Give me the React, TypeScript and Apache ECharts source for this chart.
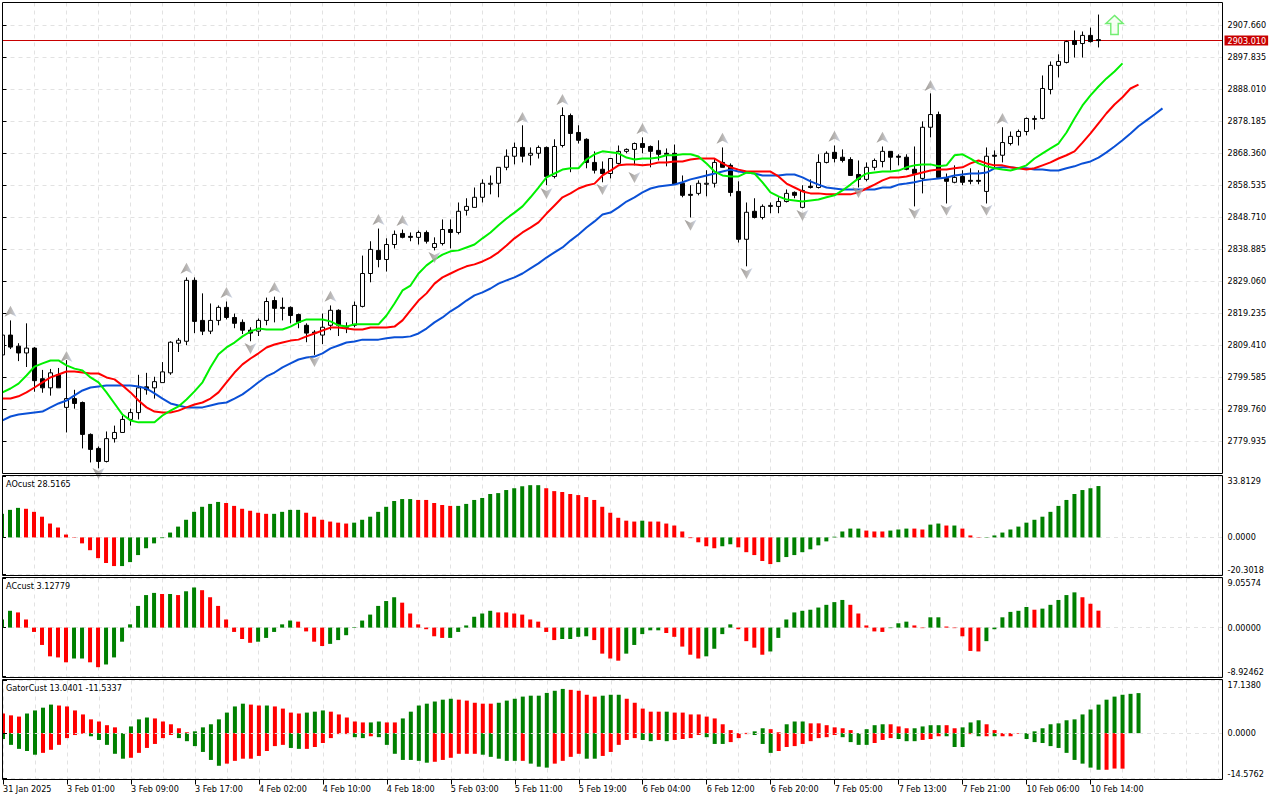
import React, { useEffect, useRef } from "react";
import * as echarts from "echarts";

const opens = [2806.5,2812.6,2809.2,2807.1,2808.6,2799.2,2796.4,2800.4,2790.4,2793.1,
2791.9,2782.1,2777.8,2773.8,2780.8,2782.7,2786.7,2788.8,2796.7,2796.4,
2798.0,2801.0,2810.1,2810.7,2829.4,2817.1,2813.8,2817.1,2821.1,2818.0,
2816.5,2814.1,2813.8,2817.1,2823.2,2821.1,2821.1,2818.9,2815.6,2813.5,
2812.6,2815.6,2820.2,2815.3,2815.6,2821.4,2831.5,2838.6,2835.8,2840.4,
2843.8,2842.9,2842.6,2844.1,2839.5,2840.7,2845.0,2844.1,2850.9,2851.8,
2854.9,2858.9,2859.2,2864.1,2867.5,2870.2,2867.8,2868.4,2870.2,2861.3,
2870.8,2880.0,2874.8,2872.7,2865.6,2863.5,2862.2,2865.3,2869.0,2869.6,
2871.4,2870.5,2869.3,2868.4,2868.4,2859.2,2855.8,2856.1,2858.9,2859.2,
2865.6,2864.7,2856.7,2842.0,2850.6,2848.7,2852.1,2852.1,2853.6,2856.4,
2851.8,2858.3,2857.9,2865.6,2868.7,2867.2,2866.5,2861.9,2860.4,2864.1,
2865.9,2869.0,2867.5,2867.2,2863.5,2860.7,2876.4,2880.3,2860.7,2859.5,
2861.3,2860.1,2860.1,2856.7,2867.8,2867.8,2871.4,2873.6,2875.1,2878.8,
2879.1,2888.0,2895.4,2896.3,2903.0,2902.1,2904.6,2903.3];
const closes = [2812.6,2808.9,2807.1,2808.6,2798.6,2796.4,2801.0,2796.4,2793.1,2791.6,
2782.1,2777.5,2773.8,2780.8,2782.7,2786.7,2788.8,2796.4,2795.8,2798.3,
2801.3,2810.4,2811.0,2829.4,2816.8,2813.8,2817.1,2821.1,2818.0,2816.2,
2814.1,2813.2,2817.1,2822.9,2820.8,2820.8,2818.6,2816.5,2813.2,2813.2,
2815.0,2820.2,2815.6,2815.0,2821.7,2831.5,2838.9,2835.8,2840.4,2843.5,
2842.6,2842.6,2844.1,2841.4,2840.7,2845.0,2844.1,2850.6,2852.1,2854.9,
2859.2,2859.2,2864.1,2867.5,2870.2,2867.5,2868.4,2870.2,2861.3,2870.5,
2880.0,2874.5,2872.4,2865.6,2863.2,2862.2,2866.8,2869.0,2869.6,2871.4,
2870.2,2869.0,2868.1,2868.1,2858.9,2855.5,2855.5,2859.2,2859.2,2865.6,
2864.1,2856.4,2842.0,2850.3,2848.7,2852.1,2852.4,2853.6,2856.1,2855.5,
2857.0,2857.9,2865.6,2868.4,2866.8,2866.2,2861.6,2860.4,2864.1,2866.2,
2869.0,2867.2,2867.2,2863.5,2862.2,2876.4,2880.3,2861.0,2859.8,2861.0,
2859.5,2859.8,2859.8,2867.5,2867.5,2871.7,2873.6,2875.1,2879.1,2879.1,
2888.3,2895.4,2896.6,2902.7,2901.8,2904.6,2902.7,2903.01];
const highs = [2814.1,2817.1,2810.1,2816.2,2808.9,2801.9,2802.2,2802.5,2804.9,2795.8,
2792.2,2782.4,2778.4,2783.0,2784.8,2787.9,2790.0,2800.4,2801.0,2799.8,
2804.3,2810.7,2811.7,2830.3,2830.3,2825.4,2822.3,2821.7,2822.9,2819.2,
2817.4,2815.0,2817.7,2824.1,2824.4,2824.1,2821.4,2819.2,2816.2,2814.1,
2819.2,2821.7,2820.5,2816.5,2822.9,2837.0,2841.4,2845.3,2842.3,2844.7,
2845.0,2844.1,2844.7,2844.7,2842.6,2848.1,2848.1,2853.3,2854.6,2857.9,
2860.4,2861.6,2864.1,2869.6,2871.7,2877.0,2870.2,2870.8,2870.5,2872.7,
2882.5,2880.6,2877.0,2873.0,2869.0,2865.9,2866.8,2870.8,2869.9,2871.7,
2873.3,2870.8,2872.4,2869.9,2871.1,2861.6,2858.6,2860.1,2863.2,2866.8,
2870.2,2865.3,2859.8,2853.3,2854.6,2852.7,2853.3,2854.9,2857.3,2856.7,
2858.6,2860.4,2868.1,2869.0,2870.8,2869.6,2867.2,2866.2,2865.6,2866.8,
2870.5,2869.0,2868.1,2868.1,2870.5,2878.2,2886.8,2881.2,2862.2,2864.7,
2863.2,2863.8,2863.2,2870.2,2869.3,2876.4,2875.1,2875.7,2879.4,2880.0,
2892.3,2896.6,2898.8,2903.0,2906.1,2905.8,2907.0,2911.0];
const lows = [2806.2,2808.3,2804.6,2802.8,2795.2,2794.9,2794.0,2796.4,2782.7,2790.0,
2777.8,2773.5,2771.7,2773.5,2779.6,2782.7,2784.8,2786.7,2794.3,2793.1,
2798.0,2800.4,2807.4,2809.5,2813.2,2812.6,2812.9,2815.6,2817.4,2814.7,
2812.9,2810.7,2812.3,2815.6,2816.5,2817.1,2816.2,2814.7,2810.4,2806.5,
2809.8,2814.1,2812.3,2813.2,2815.0,2821.1,2828.8,2833.4,2832.1,2839.2,
2842.3,2841.4,2840.4,2840.7,2838.6,2840.1,2839.2,2843.5,2849.3,2851.8,
2853.3,2855.8,2854.9,2863.2,2865.0,2865.6,2864.7,2866.8,2858.6,2860.7,
2870.2,2862.6,2871.4,2863.8,2862.2,2859.5,2860.7,2865.0,2868.4,2864.7,
2868.4,2864.1,2866.2,2864.4,2858.9,2854.9,2848.7,2855.5,2855.2,2857.9,
2864.1,2855.2,2841.0,2833.7,2848.4,2848.1,2850.0,2850.0,2853.3,2854.6,
2851.5,2857.6,2857.6,2865.3,2865.6,2865.6,2861.6,2857.9,2859.8,2863.2,
2864.1,2863.2,2864.7,2863.2,2852.1,2856.1,2873.3,2861.0,2853.0,2859.2,
2858.6,2858.9,2858.9,2853.0,2863.8,2865.6,2870.8,2870.8,2873.9,2875.7,
2878.8,2886.5,2891.7,2896.0,2897.8,2897.8,2902.4,2900.9];

const greenLine = [2795.0,2796.2,2797.7,2800.2,2802.9,2803.9,2804.8,2804.8,2803.3,2802.3,
2801.7,2799.6,2798.1,2795.0,2791.6,2788.2,2786.4,2785.8,2785.8,2785.8,
2787.9,2789.4,2790.7,2792.8,2795.3,2798.1,2802.7,2806.7,2808.8,2810.3,
2812.2,2813.7,2814.6,2814.3,2814.3,2814.3,2815.2,2816.5,2817.4,2817.4,
2817.4,2816.8,2815.6,2815.2,2815.9,2815.9,2815.9,2815.9,2818.6,2822.3,
2826.3,2827.8,2831.5,2834.0,2835.8,2837.3,2838.3,2838.6,2839.5,2840.4,
2842.3,2844.1,2846.3,2848.4,2850.2,2852.1,2854.9,2857.9,2861.0,2862.2,
2863.4,2863.8,2863.8,2866.5,2868.1,2869.0,2868.7,2868.4,2867.1,2866.5,
2866.8,2866.8,2867.1,2867.8,2867.8,2868.1,2868.1,2867.4,2865.3,2862.8,
2861.6,2861.3,2861.3,2862.5,2862.2,2859.5,2856.4,2855.2,2854.2,2853.9,
2853.6,2853.9,2854.2,2854.9,2855.5,2857.0,2858.8,2860.7,2862.2,2862.5,
2862.8,2862.8,2863.1,2864.1,2864.7,2865.0,2865.0,2864.4,2864.7,2867.8,
2868.1,2866.8,2865.3,2864.4,2863.8,2863.4,2863.1,2863.8,2864.7,2866.8,
2868.4,2869.9,2871.4,2874.8,2879.1,2883.1,2886.2,2888.9,2891.4,2893.5,
2896.0];
const redLine = [2793.1,2793.1,2793.8,2795.0,2796.5,2798.1,2799.6,2800.5,2801.4,2801.4,
2801.1,2800.8,2800.8,2799.6,2799.0,2797.1,2795.0,2792.5,2790.4,2789.1,
2788.8,2788.8,2789.4,2790.4,2791.3,2791.9,2793.1,2795.0,2798.1,2801.1,
2803.6,2805.4,2807.0,2808.8,2809.7,2810.3,2810.9,2811.2,2812.2,2813.1,
2814.0,2814.9,2814.9,2814.6,2814.3,2814.3,2814.9,2814.9,2814.9,2815.2,
2817.1,2820.2,2823.2,2825.4,2828.4,2830.3,2831.5,2832.7,2833.7,2834.3,
2835.2,2836.4,2838.0,2840.1,2842.3,2844.1,2845.6,2847.2,2849.9,2852.4,
2854.9,2856.1,2857.6,2858.5,2859.1,2861.6,2863.1,2864.7,2865.0,2865.0,
2864.7,2865.0,2865.6,2865.6,2865.9,2865.9,2866.5,2866.8,2866.8,2866.8,
2865.3,2864.1,2863.4,2862.8,2862.8,2862.8,2862.8,2861.3,2859.1,2857.9,
2856.7,2856.1,2856.1,2855.8,2855.8,2855.8,2855.8,2856.4,2857.6,2858.8,
2860.1,2861.0,2861.0,2861.3,2861.9,2862.5,2863.1,2863.4,2863.4,2863.8,
2864.1,2865.3,2866.2,2865.3,2864.7,2864.7,2864.1,2863.8,2863.4,2863.8,
2864.7,2865.6,2866.8,2867.8,2869.0,2871.7,2874.5,2877.6,2880.7,2883.4,
2885.6,2888.3,2889.5];
const blueLine = [2786.4,2787.6,2788.2,2788.5,2788.8,2789.1,2790.4,2791.6,2792.5,2794.1,
2795.6,2796.5,2796.8,2797.1,2797.1,2797.1,2797.1,2796.8,2796.2,2794.7,
2793.1,2791.6,2791.0,2790.4,2790.4,2790.4,2791.0,2791.6,2791.9,2793.1,
2794.4,2796.2,2798.1,2799.9,2801.1,2802.7,2803.9,2805.1,2805.7,2806.0,
2807.0,2808.5,2809.4,2810.3,2810.6,2811.2,2811.2,2811.2,2811.6,2811.9,
2811.9,2812.2,2813.1,2814.6,2816.5,2818.0,2819.9,2821.4,2823.2,2824.8,
2825.7,2826.9,2828.4,2829.4,2830.3,2831.5,2833.1,2834.6,2836.4,2838.0,
2839.5,2841.6,2843.5,2845.6,2847.5,2849.6,2850.2,2851.8,2853.6,2854.9,
2856.4,2857.6,2858.2,2858.5,2858.8,2859.5,2860.4,2861.0,2861.6,2862.2,
2862.8,2863.4,2862.8,2862.5,2862.2,2861.6,2861.6,2861.6,2861.9,2861.9,
2861.0,2859.8,2858.8,2857.9,2857.6,2857.3,2857.3,2857.3,2857.3,2857.3,
2857.9,2857.9,2858.8,2859.1,2859.5,2860.1,2860.4,2860.7,2861.0,2861.6,
2861.9,2862.2,2862.2,2862.5,2863.8,2864.1,2864.1,2863.8,2863.8,2863.4,
2863.4,2863.1,2863.1,2863.8,2864.4,2865.3,2865.9,2867.1,2868.7,2870.5,
2872.4,2874.5,2876.7,2878.5,2880.3,2882.2];

const fractalUpIdx = [1,8,23,28,34,41,47,50,65,70,80,90,104,110,116,125];
const fractalUpPrice = [2819.9,2806.0,2833.1,2825.7,2827.2,2824.5,2848.1,2847.8,2879.4,2884.9,2876.0,2873.0,2873.6,2873.3,2889.2,2879.1];
const fractalDownIdx = [12,31,39,54,68,75,79,86,93,100,107,114,118,123];
const fractalDownPrice = [2770.1,2808.5,2804.5,2836.4,2856.1,2857.3,2861.0,2846.3,2831.5,2849.3,2856.4,2849.9,2850.9,2850.9];
const signalIdx = 139;
const signalPrice = 2907.8;
const lastPrice = 2903.01;

const aoValues = [13.1,15.3,16.4,15.9,14.2,11.5,7.7,5.5,1.6,-0.2,
-3.3,-7.1,-11.5,-14.2,-15.9,-15.9,-13.7,-9.8,-6.0,-3.3,
-0.4,2.7,6.0,9.8,14.2,17.0,18.6,19.7,19.1,17.5,
15.9,14.8,13.7,13.1,13.1,14.2,15.3,15.3,13.7,11.5,
9.8,8.8,8.2,7.7,8.2,9.8,11.5,14.2,17.0,20.2,
21.3,21.3,20.8,20.8,19.1,18.0,17.5,17.5,18.6,20.8,
21.9,24.1,24.6,26.3,27.3,28.4,29.0,29.0,27.3,25.7,
25.2,24.1,23.5,22.4,20.8,17.0,13.7,10.9,9.3,8.8,
9.3,8.8,8.8,7.7,6.6,3.3,-0.4,-2.7,-4.9,-6.0,
-4.9,-3.8,-5.5,-8.2,-9.8,-13.1,-14.8,-13.7,-10.9,-9.8,
-8.2,-6.6,-4.4,-2.2,0.4,3.3,4.9,4.9,3.8,3.3,
3.3,3.8,4.4,4.9,4.9,4.4,7.1,7.7,6.6,6.6,
4.9,1.1,0.2,-0.2,1.1,2.7,4.4,6.0,8.2,9.8,
11.5,14.2,17.5,20.8,24.1,26.3,27.3,28.5165];
const aoRising = [1,1,1,0,0,0,0,0,0,0,
0,0,0,0,0,1,1,1,1,1,
1,1,1,1,1,1,1,1,0,0,
0,0,0,0,1,1,1,1,0,0,
0,0,0,0,1,1,1,1,1,1,
1,1,0,0,0,0,0,1,1,1,
1,1,1,1,1,1,1,1,0,0,
0,0,0,0,0,0,0,0,0,0,
1,0,0,0,0,0,0,0,0,0,
1,1,0,0,0,0,0,1,1,1,
1,1,1,1,1,1,1,1,0,0,
0,1,1,1,0,0,1,1,0,1,
0,0,0,1,1,1,1,1,1,1,
1,1,1,1,1,1,1,1];

const acValues = [1.5,3.1,2.8,1.5,-0.8,-3.2,-5.3,-5.5,-6.4,-5.7,
-5.7,-6.4,-7.3,-6.8,-5.5,-2.6,0.6,4.0,6.0,6.4,
6.2,6.2,6.0,6.7,7.4,6.9,5.6,4.0,1.5,-0.8,
-2.1,-2.8,-2.6,-1.9,-0.8,0.6,1.3,1.1,-0.7,-2.6,
-3.4,-3.0,-2.3,-1.4,0.1,1.3,2.4,4.0,4.9,5.6,
4.6,2.6,0.6,-0.3,-1.6,-1.9,-1.9,-0.8,0.4,2.0,
2.6,3.1,2.8,2.8,2.6,2.4,1.5,1.1,-0.8,-2.3,
-2.1,-2.1,-1.7,-1.6,-2.3,-4.8,-5.7,-6.1,-4.8,-3.2,
-1.2,-0.5,-0.5,-1.0,-1.7,-3.5,-5.0,-5.7,-5.3,-3.9,
-1.2,0.6,-0.3,-2.5,-3.7,-5.0,-4.4,-1.9,1.5,2.8,
3.1,3.3,3.7,4.2,4.7,5.1,4.2,2.6,0.4,-0.7,
-0.8,-0.1,0.8,1.1,0.4,-0.1,1.9,1.9,0.2,-0.1,
-1.6,-4.3,-4.4,-2.5,-0.3,1.9,2.9,3.1,3.8,3.3,
3.5,4.2,5.1,6.0,6.5,5.6,4.4,3.12779];
const acRising = [1,1,0,0,0,0,0,0,0,1,
1,0,0,1,1,1,1,1,1,1,
0,1,0,1,1,0,0,0,0,0,
0,0,1,1,1,1,1,0,0,0,
0,1,1,1,1,1,1,1,1,1,
0,0,0,0,0,0,1,1,1,1,
1,1,0,0,0,0,0,0,0,0,
1,1,1,1,0,0,0,0,1,1,
1,1,1,0,0,0,0,0,1,1,
1,1,0,0,0,0,1,1,1,1,
1,1,1,1,1,1,0,0,0,0,
0,1,1,1,0,0,1,1,0,0,
0,0,0,1,1,1,1,1,1,0,
1,1,1,1,1,0,0,0];

const gatorUpper = [6.4,5.8,5.4,6.4,7.4,8.3,9.3,9.0,8.7,7.4,
6.1,4.5,3.8,2.6,1.9,0,2.2,4.5,5.1,4.8,
3.8,2.9,1.6,0.3,0.6,1.9,2.9,4.5,6.7,8.7,
9.6,9.3,9.0,9.0,8.7,8.0,6.7,6.4,6.7,7.0,
7.4,7.0,6.1,5.1,3.8,3.5,3.5,3.8,3.5,3.5,
4.8,7.0,9.0,9.6,10.3,10.9,11.2,10.9,10.6,9.9,
9.6,9.6,9.9,10.6,11.2,11.9,12.2,12.2,13.1,13.8,
14.4,14.1,13.8,12.5,11.9,12.2,12.5,12.5,11.2,9.9,
8.0,7.0,7.0,7.0,6.7,6.7,6.1,6.1,5.4,4.8,
2.9,1.0,0,0.1,0.6,1.6,1.3,0.3,2.9,3.8,
3.8,3.2,3.2,2.6,1.9,1.6,1.0,0,1.3,2.6,
2.9,2.9,2.2,1.6,1.6,2.2,2.6,2.6,2.6,1.6,
1.9,3.5,4.2,2.9,1.0,0,0,0,0,0.6,
1.6,2.9,3.2,4.2,4.5,6.1,7.7,9.3,10.9,11.9,
12.5,12.8,13.0401];
const gatorUpperRising = [0,0,0,1,1,1,1,0,0,0,
0,0,0,0,0,1,1,1,1,0,
0,0,0,0,1,1,1,1,1,1,
1,0,0,1,0,0,0,0,1,1,
1,0,0,0,0,0,1,1,0,0,
1,1,1,1,1,1,1,0,0,0,
0,0,1,1,1,1,1,1,1,1,
1,0,0,0,0,1,1,1,0,0,
0,0,0,1,0,0,0,0,0,0,
0,0,0,0,1,1,0,0,1,1,
1,0,0,0,0,0,0,0,1,1,
1,0,0,0,1,1,1,1,0,0,
1,1,1,0,0,0,0,0,0,1,
1,1,1,1,1,1,1,1,1,1,
1,1,1];
const gatorLower = [-1.9,-3.8,-5.1,-5.8,-7.0,-6.4,-5.4,-3.8,-1.6,-0.6,
-0.2,-1.0,-2.2,-3.8,-6.7,-8.3,-8.0,-6.4,-4.8,-3.5,
-1.6,-0.6,-1.6,-2.6,-4.2,-6.1,-8.7,-10.6,-9.9,-9.0,
-8.3,-8.3,-7.4,-5.8,-4.2,-3.8,-4.8,-5.1,-5.1,-4.5,
-3.2,-1.6,-0.3,-0.3,-1.3,-1.6,-1.0,-1.3,-3.8,-6.7,
-8.7,-8.7,-9.0,-9.6,-9.3,-8.7,-8.0,-6.7,-6.7,-6.7,
-7.0,-7.7,-8.3,-9.0,-9.0,-9.0,-9.9,-10.9,-11.2,-9.9,
-9.0,-7.7,-6.7,-8.3,-8.3,-7.4,-6.1,-3.8,-2.2,-1.6,
-2.2,-2.6,-2.2,-2.6,-2.2,-1.9,-1.6,-0.6,-1.3,-3.5,
-3.5,-2.9,-1.6,-0.3,-0.6,-3.5,-6.4,-5.8,-4.5,-4.2,
-3.5,-2.6,-1.6,-1.3,-0.6,-1.3,-2.9,-3.8,-3.8,-3.2,
-2.2,-1.6,-1.9,-2.6,-2.6,-2.2,-1.9,-1.0,-1.0,-4.5,
-4.5,-0.3,-1.0,-1.0,-1.0,-1.0,-1.0,-0.2,-1.9,-2.9,
-3.2,-4.2,-4.8,-6.4,-8.7,-9.9,-11.2,-11.9,-11.9,-11.5,
-11.5337];
const gatorLowerRising = [1,1,1,1,1,0,0,0,0,0,
0,1,1,1,1,1,0,0,0,0,
0,0,1,1,1,1,1,1,0,0,
0,0,0,0,0,0,1,1,0,0,
0,0,0,0,1,1,0,1,1,1,
1,1,1,1,0,0,0,0,0,0,
1,1,1,1,1,0,1,1,1,0,
0,0,0,1,1,0,0,0,0,0,
1,1,0,1,0,0,0,0,1,1,
1,0,0,0,1,1,1,0,0,0,
0,0,0,0,0,1,1,1,1,0,
0,0,1,1,1,0,0,0,1,1,
1,0,1,0,1,0,0,0,1,1,
1,1,1,1,1,1,1,1,0,0,
0];

const mainTicks = [2907.66,2897.835,2888.01,2878.185,2868.36,2858.535,2848.71,2838.885,2829.06,2819.235,2809.41,2799.585,2789.76,2779.935];
const aoTicks = [-20.3018,0,33.8129];
const acTicks = [-8.92462,0,9.05574];
const gatorTicks = [-14.5762,0,17.138];
const timeTickIdx = [0,8,16,24,32,40,48,56,64,72,80,88,96,104,112,120,128,136];
const timeLabels = ["31 Jan 2025","3 Feb 01:00","3 Feb 09:00","3 Feb 17:00","4 Feb 02:00","4 Feb 10:00","4 Feb 18:00","5 Feb 03:00","5 Feb 11:00","5 Feb 19:00","6 Feb 04:00","6 Feb 12:00","6 Feb 20:00","7 Feb 05:00","7 Feb 13:00","7 Feb 21:00","10 Feb 06:00","10 Feb 14:00"];

const FONT = "'DejaVu Sans Condensed', 'DejaVu Sans', sans-serif";
const FS = 9;
const GREEN_BAR = "#008000";
const RED_BAR = "#ff0000";
const GRID_LINE = "#e2e2e2";
const X_MAX = 152.5;

const pairs = (arr: number[]) => arr.map((v, i) => [i, v]);

const gridLineStyle = { show: true, lineStyle: { color: GRID_LINE, width: 1, type: [4, 4] as number[] } };

function xAxisFor(gridIndex: number) {
  return {
    type: "value", gridIndex, min: 0, max: X_MAX, interval: 4,
    axisLine: { show: false }, axisTick: { show: false }, axisLabel: { show: false },
    splitLine: gridLineStyle,
  };
}

function yAxisFor(gridIndex: number, ticks: number[], decimals: number, z: number, edgeLabels: boolean) {
  const min = Math.min(...ticks);
  const max = Math.max(...ticks);
  return { type: "value", gridIndex, position: "right", min, max, z,
    axisLine: { show: false },
    axisTick: { show: true, length: 4, customValues: ticks, lineStyle: { color: "#000" } },
    axisLabel: { show: true, customValues: ticks, margin: 5, color: "#000", fontFamily: FONT, fontSize: FS,
      ...(edgeLabels ? { verticalAlignMinLabel: "bottom", verticalAlignMaxLabel: "top" } : {}),
      formatter: (v: number) => v.toFixed(decimals) },
    splitLine: gridLineStyle,
  };
}

const barSeries = (name: string, axis: number, values: number[], flags: number[], extra: object = {}) => ({
  name, type: "bar", xAxisIndex: axis, yAxisIndex: axis, data: pairs(values), barWidth: 4, clip: true,
  itemStyle: { color: (p: any) => (flags[p.dataIndex] ? GREEN_BAR : RED_BAR) }, ...extra,
});

const lineSeries = (name: string, values: number[], color: string) => ({
  name, type: "line", xAxisIndex: 0, yAxisIndex: 0, data: pairs(values), showSymbol: false, symbol: "none",
  lineStyle: { color, width: 2 }, z: 4,
});

const arrowFill = { type: "linear", x: 0, y: 0, x2: 1, y2: 0,
  colorStops: [{ offset: 0, color: "#85807a" }, { offset: 0.55, color: "#aaa7a5" }, { offset: 1, color: "#c2cee6" }] };
const UP_ARROW = "path://M6 0 L12 11 L6 8 L0 11 Z";
const DOWN_ARROW = "path://M6 11 L12 0 L6 3 L0 0 Z";
const SIGNAL_ARROW = "path://M8 0 L16 8 L11.5 8 L11.5 19 L4.5 19 L4.5 8 L0 8 Z";

const frame = (y1: number, y2: number) => ({
  type: "rect", z: 100, silent: true,
  shape: { x: 2.5, y: y1, width: 1220, height: y2 - y1 },
  style: { fill: "none", stroke: "#000", lineWidth: 1 },
});
const panelTitle = (text: string, y: number) => ({
  type: "text", z: 101, silent: true, x: 6, y,
  style: { text, fill: "#000", font: `${FS}px ${FONT}`, textVerticalAlign: "middle" },
});

export default function App() {
  const ref = useRef<HTMLDivElement>(null);
  useEffect(() => {
    const chart = echarts.init(ref.current!, null, { renderer: "svg" });
    chart.setOption({
      animation: false,
      backgroundColor: "#fff",
      grid: [
        { left: 2.5, top: 2.5, width: 1220, height: 471 },
        { left: 2, top: 476.5, width: 1220.5, height: 97.5 },
        { left: 2, top: 578.5, width: 1220.5, height: 97.5 },
        { left: 2, top: 680.5, width: 1220.5, height: 97.5 },
      ],
      xAxis: [
        xAxisFor(0), xAxisFor(1), xAxisFor(2), xAxisFor(3),
        { type: "value", gridIndex: 3, position: "bottom", offset: 1.5, min: 0, max: X_MAX,
          axisLine: { show: false }, splitLine: { show: false },
          axisTick: { show: true, length: 5, customValues: timeTickIdx, lineStyle: { color: "#000" } },
          axisLabel: { show: true, customValues: timeTickIdx, margin: 5, align: "left", color: "#000",
            fontFamily: FONT, fontSize: FS, formatter: (v: number) => timeLabels[timeTickIdx.indexOf(v)] ?? "" } },
      ],
      yAxis: [
        { ...yAxisFor(0, mainTicks, 3, 0, false), min: 2770.1, max: 2914.7 },
        yAxisFor(1, aoTicks, 4, 0, true),
        yAxisFor(2, acTicks, 5, 0, true),
        yAxisFor(3, gatorTicks, 4, 5, true),
      ],
      series: [
        { name: "Price", type: "candlestick", xAxisIndex: 0, yAxisIndex: 0, barWidth: 5, clip: true, z: 2,
          data: opens.map((o, i) => [i, o, closes[i], lows[i], highs[i]]),
          itemStyle: { color: "#fff", color0: "#000", borderColor: "#000", borderColor0: "#000", borderWidth: 1 },
          markLine: { silent: true, symbol: "none", animation: false, z: 1,
            lineStyle: { color: "#c80000", width: 1, type: "solid" },
            data: [{ yAxis: lastPrice }],
            label: { show: true, position: "end", distance: 2, formatter: () => lastPrice.toFixed(3),
              backgroundColor: "#c80000", color: "#fff", fontFamily: FONT, fontSize: FS, padding: [1, 2, 0, 3] } } },
        lineSeries("Blue", blueLine, "#0a50d6"),
        lineSeries("Red", redLine, "#ff0000"),
        lineSeries("Green", greenLine, "#00f000"),
        { name: "FractalUp", type: "scatter", xAxisIndex: 0, yAxisIndex: 0, clip: true, z: 5,
          data: fractalUpIdx.map((k, i) => [k, fractalUpPrice[i]]), symbol: UP_ARROW, symbolSize: [12, 11],
          itemStyle: { color: arrowFill } },
        { name: "FractalDown", type: "scatter", xAxisIndex: 0, yAxisIndex: 0, clip: true, z: 5,
          data: fractalDownIdx.map((k, i) => [k, fractalDownPrice[i]]), symbol: DOWN_ARROW, symbolSize: [12, 11],
          itemStyle: { color: arrowFill } },
        { name: "Signal", type: "scatter", xAxisIndex: 0, yAxisIndex: 0, z: 5,
          data: [[signalIdx, signalPrice]], symbol: SIGNAL_ARROW, symbolSize: [17, 19],
          itemStyle: { color: "#f4fff0", borderColor: "#50e850", borderWidth: 1.5 } },
        barSeries("AO", 1, aoValues, aoRising),
        barSeries("AC", 2, acValues, acRising),
        barSeries("GatorUp", 3, gatorUpper, gatorUpperRising, { barGap: "-100%" }),
        barSeries("GatorDown", 3, gatorLower, gatorLowerRising, { barGap: "-100%" }),
      ],
      graphic: [
        { type: "rect", z: 99, silent: true, shape: { x: 0, y: 0, width: 2.5, height: 780 }, style: { fill: "#fff" } },
        frame(2.5, 473.5), frame(475.5, 575.5), frame(577.5, 677.5), frame(679.5, 779.5),
        panelTitle("AOcust 28.5165", 484),
        panelTitle("ACcust 3.12779", 586),
        panelTitle("GatorCust 13.0401 -11.5337", 688),
      ],
    });
    return () => chart.dispose();
  }, []);
  return <div ref={ref} style={{ position: "fixed", left: 0, top: 0, width: 1280, height: 800 }} />;
}
